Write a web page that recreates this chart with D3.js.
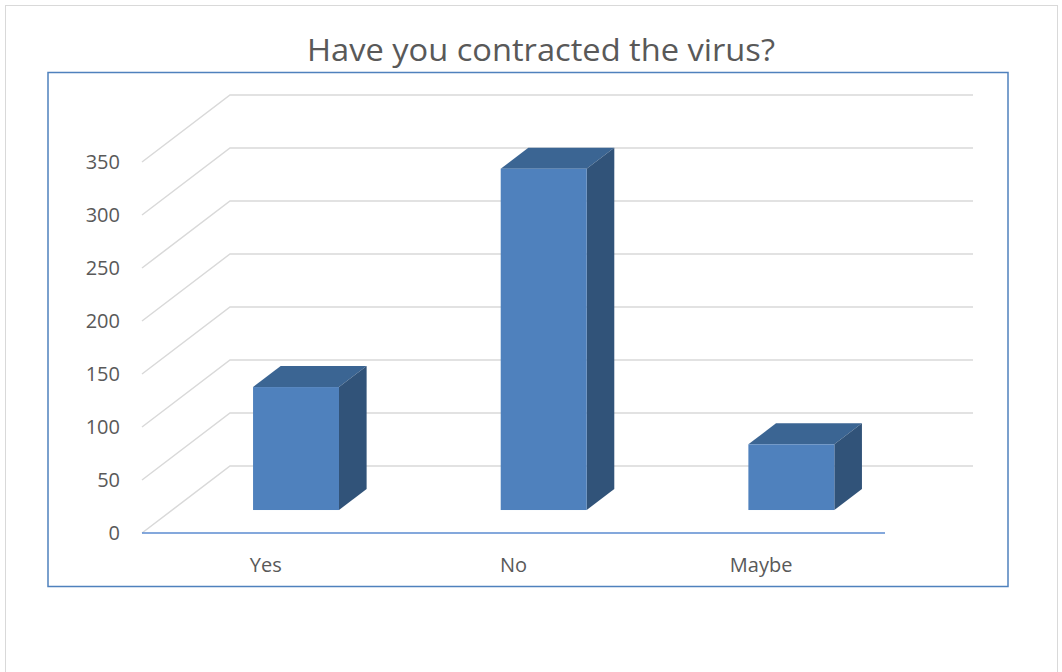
<!DOCTYPE html>
<html>
<head>
<meta charset="utf-8">
<script src="https://cdn.jsdelivr.net/npm/d3@7"></script>
<style>
  body { margin: 0; background: #fff; }
  text { font-family: "Open Sans", "Noto Sans", sans-serif; fill: #595959; }
</style>
</head>
<body>
<svg id="chart" width="1062" height="672"></svg>
<script>
// chart data
const categories = ["Yes", "No", "Maybe"]
const counts = [116, 322, 62]
const tickValues = [0, 50, 100, 150, 200, 250, 300, 350]
const title = "Have you contracted the virus?"

const svg = d3.select("#chart")

// outer chart area + plot frame
svg.append("rect")
    .attr("x", 5.5).attr("y", 5.5)
    .attr("width", 1052).attr("height", 700)
    .style("fill", "none").style("stroke", "#d9d9d9").style("stroke-width", 1)

svg.append("rect")
    .attr("x", 48).attr("y", 72.5)
    .attr("width", 960).attr("height", 514)
    .style("fill", "none").style("stroke", "#4f81bd").style("stroke-width", 1.5)

svg.append("text")
    .attr("x", 541).attr("y", 61)
    .attr("text-anchor", "middle")
    .attr("textLength", 468)
    .attr("lengthAdjust", "spacingAndGlyphs")
    .style("font-size", "31px")
    .text(title)

// front scales, depth is an oblique offset
const x = d3.scaleBand().domain(categories).range([142, 885]).paddingInner(0).paddingOuter(0)
const y = d3.scaleLinear().domain([0, 350]).range([533, 162])
const depthX = 88, depthY = -67
const off = d => [depthX * d, depthY * d]

// gridlines: left wall diagonal + back wall horizontal
const grid = svg.append("g")
tickValues.forEach(v => {
    const [bx, by] = off(1)
    grid.append("path")
        .attr("d", `M${142},${y(v)} L${142 + bx},${y(v) + by} L${885 + bx},${y(v) + by}`)
        .style("fill", "none").style("stroke", "#d9d9d9").style("stroke-width", 1.5)
})

// front category axis line
svg.append("line")
    .attr("x1", 142).attr("x2", 885)
    .attr("y1", y(0)).attr("y2", y(0))
    .style("stroke", "#5b8bd0").style("stroke-width", 1.5)

// value labels
svg.append("g").selectAll("text")
    .data(tickValues)
    .enter()
    .append("text")
    .attr("x", 120)
    .attr("y", d => y(d) + 7)
    .attr("text-anchor", "end")
    .style("font-size", "20px")
    .text(d => d)

// category labels
svg.append("g").selectAll("text")
    .data(categories)
    .enter()
    .append("text")
    .attr("x", d => x(d) + x.bandwidth() / 2)
    .attr("y", 572)
    .attr("text-anchor", "middle")
    .style("font-size", "20px")
    .text(d => d)

// 3d bars
const d0 = 0.343, d1 = 0.657
const barW = x.bandwidth() * 0.347

const bars = svg.append("g").selectAll("g")
    .data(categories.map((c, i) => ({ name: c, value: counts[i] })))
    .enter()
    .append("g")

bars.each(function (d) {
    const g = d3.select(this)
    const [fx, fy] = off(d0)
    const [kx, ky] = off(d1)
    const left = x(d.name) + (x.bandwidth() - barW) / 2 + fx
    const right = left + barW
    const top = y(d.value) + fy
    const bottom = y(0) + fy
    const dx = kx - fx, dy = ky - fy

    // top face
    g.append("path")
        .attr("d", `M${left},${top} L${right},${top} L${right + dx},${top + dy} L${left + dx},${top + dy} Z`)
        .style("fill", "#3b6593")
    // right face
    g.append("path")
        .attr("d", `M${right},${top} L${right + dx},${top + dy} L${right + dx},${bottom + dy} L${right},${bottom} Z`)
        .style("fill", "#315379")
    // front face
    g.append("rect")
        .attr("x", left).attr("y", top)
        .attr("width", barW).attr("height", bottom - top)
        .style("fill", "#4f81bd")
})
</script>
</body>
</html>
